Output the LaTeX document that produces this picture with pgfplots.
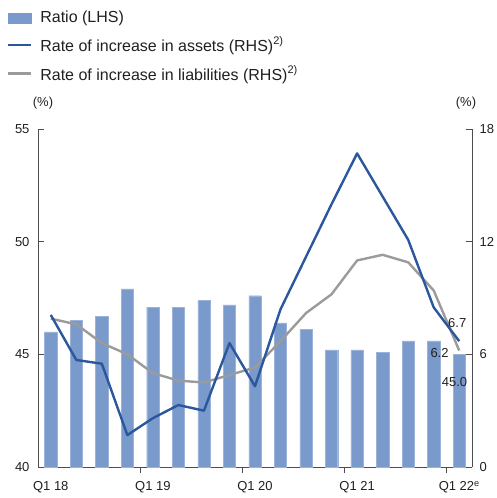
\documentclass[border=0pt]{standalone}
\usepackage{pgfplots}
\pgfplotsset{compat=1.18}
\usepackage{fontspec}
\setmainfont{Liberation Sans}

\definecolor{barblue}{HTML}{7A9ACB}
\definecolor{lineblue}{HTML}{2B579E}
\definecolor{linegray}{HTML}{9B9B9B}
\definecolor{axisgray}{HTML}{4D4D4D}
\definecolor{txt}{HTML}{231F20}

% small raised footnote marker
\newcommand{\fn}[1]{\raisebox{0.42em}{\fontsize{11}{12}\selectfont #1}}

% Ratio (LHS), %
\pgfplotstableread{
x ratio
0 46.0
1 46.5
2 46.7
3 47.9
4 47.1
5 47.1
6 47.4
7 47.2
8 47.6
9 46.4
10 46.1
11 45.2
12 45.2
13 45.1
14 45.6
15 45.6
16 45.0
}\ratiotable

% Rate of increase in assets (RHS), %
\pgfplotstableread{
x assets
0 8.1
1 5.7
2 5.5
3 1.7
4 2.6
5 3.3
6 3.0
7 6.6
8 4.3
9 8.4
10 11.2
11 14.0
12 16.7
13 14.4
14 12.1
15 8.5
16 6.7
}\assetstable

% Rate of increase in liabilities (RHS), %
\pgfplotstableread{
x liab
0 7.9
1 7.6
2 6.6
3 6.0
4 5.0
5 4.6
6 4.5
7 4.9
8 5.3
9 6.7
10 8.2
11 9.2
12 11.0
13 11.3
14 10.9
15 9.4
16 6.2
}\liabtable

\pgfplotsset{
  common/.style={
    width=434pt, height=338pt, scale only axis,
    xmin=-0.5, xmax=16.5,
    tick align=inside,
    major tick length=6pt,
    axis line style={axisgray, line width=0.9pt},
    every tick/.style={axisgray, line width=0.9pt},
    tick label style={text=txt, font=\fontsize{13}{15}\selectfont},
    /pgf/number format/assume math mode=true,
  }
}

\begin{document}
\begin{tikzpicture}[font=\fontsize{13}{15}\selectfont]

\begin{axis}[common, name=main,
  axis y line*=left, axis x line*=bottom,
  ymin=40, ymax=55, ytick={40,45,50,55},
  yticklabel style={xshift=-5pt},
  xtick={3.5,7.5,11.5,15.5}, xticklabels={},
  extra x ticks={0,4,8,12,16},
  extra x tick labels={Q1 18,Q1 19,Q1 20,Q1 21,Q1 22\textsuperscript{e}},
  extra x tick style={major tick length=0pt,
    tick label style={yshift=-11pt}},
  ybar, bar width=12.3pt,
  legend style={draw=none, fill=none, inner sep=0pt,
    at={(axis description cs:-0.072,1.355)}, anchor=north west,
    cells={anchor=west}, row sep=8.5pt,
    /tikz/every odd column/.append style={column sep=6pt},
    font=\fontsize{16}{18}\selectfont, text=txt},
]
\addplot[fill=barblue, draw=barblue!75!white, line width=0.4pt,
  legend image code/.code={\fill[barblue] (0pt,-5pt) rectangle (23pt,5pt);}]
  table[x=x, y=ratio] {\ratiotable};
\addlegendentry{Ratio (LHS)}
\addlegendimage{legend image code/.code={\draw[lineblue, line width=2.4pt] (0pt,0pt) -- (23pt,0pt);}}
\addlegendentry{Rate of increase in assets (RHS)\fn{2)}}
\addlegendimage{legend image code/.code={\draw[linegray, line width=2.4pt] (0pt,0pt) -- (23pt,0pt);}}
\addlegendentry{Rate of increase in liabilities (RHS)\fn{2)}}
\node[text=txt, xshift=-4.7pt, yshift=-27.3pt] at (axis cs:16,45.0) {45.0};
\end{axis}

\begin{axis}[common,
  axis y line*=right, axis x line=none,
  ymin=0, ymax=18, ytick={0,6,12,18},
  yticklabel style={xshift=4pt},
]
\addplot[linegray, line width=2.4pt, sharp plot, no marks, line join=round]
  table[x=x, y=liab] {\liabtable};
\addplot[lineblue, line width=2.4pt, sharp plot, no marks, line join=round]
  table[x=x, y=assets] {\assetstable};
\node[text=txt, xshift=-2pt, yshift=18.5pt] at (axis cs:16,6.7) {6.7};
\node[text=txt, xshift=-19.7pt, yshift=-2pt] at (axis cs:16,6.2) {6.2};
\end{axis}

\node[text=txt] at ([xshift=5pt, yshift=26pt]main.north west) {(\%)};
\node[text=txt] at ([xshift=-6pt, yshift=26pt]main.north east) {(\%)};

\pgfresetboundingbox
\path[use as bounding box] ([xshift=-38pt, yshift=-31pt]main.south west) rectangle ++(496pt,498pt);
\end{tikzpicture}
\end{document}
